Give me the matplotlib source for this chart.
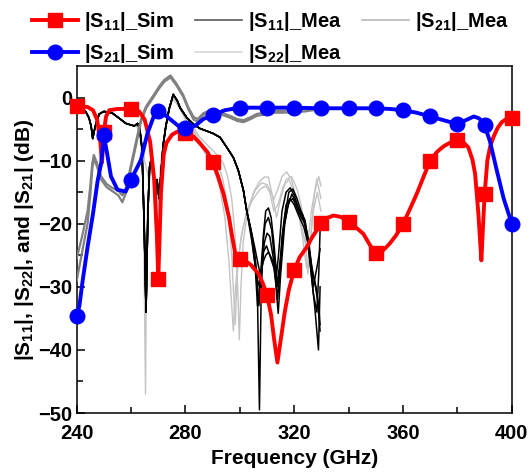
import numpy as np
import matplotlib
matplotlib.use("Agg")
import matplotlib.pyplot as plt
from matplotlib.lines import Line2D

plt.rcParams['font.family'] = ['Liberation Sans', 'DejaVu Sans']
plt.rcParams['font.weight'] = 'bold'
plt.rcParams['mathtext.fontset'] = 'custom'
plt.rcParams['mathtext.rm'] = 'Liberation Sans:bold'
plt.rcParams['mathtext.bf'] = 'Liberation Sans:bold'
plt.rcParams['mathtext.default'] = 'bf'

# ---- simulated |S11| (red) ----
s11_sim_f = [240, 242, 244, 246, 247.5, 248.6, 249.3, 250, 250.8, 252, 255, 260, 263, 265, 267,
             268.5, 269.5, 270, 271, 272, 273, 275, 277, 280, 283, 285, 288, 290, 292, 294, 296,
             297, 298.2, 300, 302, 304, 306.8, 308.5, 310, 311.5, 312.5, 313.8, 315, 316.5, 318,
             320, 322, 324.6, 326.5, 328.3, 330, 332, 334.4, 337, 340, 343, 345.4, 348, 350, 352,
             355, 357.5, 360, 362.5, 365, 367.5, 370, 372.5, 375, 377.5, 380, 382, 384, 385.5,
             386.5, 387.7, 388.8, 389.4, 390, 391, 392, 393.2, 394.8, 396.3, 398, 400]
s11_sim_db = [-1.3, -1.4, -1.5, -2.0, -3.5, -6.5, -10.3, -5.4, -3.0, -2.0, -1.8, -1.8, -2.2, -3.5, -7.0,
              -13.0, -22.0, -28.8, -15.0, -9.0, -7.2, -5.9, -5.4, -5.6, -6.2, -7.1, -8.6, -10.2, -12.5, -15.3, -19.0,
              -21.6, -24.5, -25.6, -25.9, -26.5, -27.9, -29.5, -31.3, -34.5, -38.0, -42.0, -38.5, -34.0, -30.5,
              -27.3, -25.3, -23.7, -22.2, -21.0, -19.9, -19.1, -18.7, -18.9, -19.7, -20.7, -21.6, -23.5, -24.6, -24.5,
              -23.2, -21.8, -20.0, -17.7, -15.3, -12.6, -10.0, -8.6, -7.7, -7.1, -6.7, -7.0, -7.9, -9.8,
              -12.1, -18.4, -25.8, -20.5, -15.3, -10.0, -7.8, -6.3, -4.8, -3.9, -3.4, -3.2]

# ---- simulated |S21| (blue) ----
s21_sim_f = [240, 241, 242.2, 244, 246, 247.7, 249, 250, 251.4, 252.6, 255, 258, 260, 263.6, 266,
             268.5, 270, 272, 274, 277.7, 280, 283.5, 286.6, 290, 294.5, 300, 310, 320, 330, 340,
             350, 355, 360, 365, 370, 375, 380, 383, 386, 388, 390, 392, 394.5, 397, 400]
s21_sim_db = [-34.6, -33.0, -29.0, -23.7, -18.4, -13.2, -10.4, -6.0, -9.4, -12.5, -14.6, -14.9, -13.0, -9.9, -5.7,
              -2.8, -2.2, -2.6, -3.3, -4.6, -4.9, -4.5, -3.4, -2.8, -2.0, -1.6, -1.6, -1.6, -1.7, -1.7,
              -1.7, -1.8, -2.0, -2.4, -3.0, -3.6, -4.2, -3.6, -3.0, -3.3, -4.4, -7.0, -11.6, -16.0, -20.0]

# ---- measured |S21| (gray bundle, two sweeps) ----
s21_mea_f = [240, 242, 244, 245, 245.7, 246.3, 247.5, 249, 251, 253, 255.3, 256.8, 258.2, 260, 261.8,
             263.6, 265.5, 268, 270.4, 272.2, 274.5, 276.7, 279.2, 281, 283, 284.5, 286.5, 289, 292,
             296.4, 299, 301.3, 304, 306.2, 309, 312.3, 316, 320, 324, 327, 330]
s21_mea_a = [-25.5, -22.0, -18.0, -14.0, -10.5, -9.1, -10.4, -12.5, -13.7, -14.3, -14.8, -15.5, -14.2, -10.6, -7.0,
             -3.5, -1.4, 0.2, 1.8, 2.8, 3.5, 2.2, 0.4, -1.5, -3.1, -3.4, -2.5, -2.0, -2.2,
             -2.9, -3.4, -3.6, -3.1, -2.6, -2.4, -2.1, -2.1, -2.0, -1.9, -1.7, -1.5]
s21_mea_b = [-29.0, -24.5, -20.0, -15.5, -11.5, -9.6, -11.0, -13.0, -14.2, -14.8, -15.5, -16.6, -15.0, -11.2, -7.6,
             -3.9, -1.7, -0.1, 1.5, 2.5, 3.2, 1.9, 0.1, -1.8, -3.5, -3.8, -2.8, -2.3, -2.5,
             -3.2, -3.7, -3.9, -3.4, -2.9, -2.7, -2.4, -2.4, -2.3, -2.2, -2.0, -1.8]

# ---- measured |S11| (black): common part up to 301 GHz, then individual sweeps ----
s11_mea_head_f = [240, 241.5, 243.4, 244.5, 245.3, 245.9, 246.5, 247.1, 248.3, 250, 251.5, 253.2, 255.7,
                  258.1, 261.2, 262.4, 263.2, 264, 264.8, 265.5, 266.2, 266.8, 267.5, 268.3, 268.9, 269.5,
                  270.3, 271, 271.8, 272.8, 274, 275.5, 277, 278, 280.5, 282.9, 285.3, 287.8, 290.2,
                  292.7, 295.2, 297.6, 299.4, 301.3]
s11_mea_head_db = [-1.2, -1.6, -2.3, -3.2, -4.5, -6.5, -5.2, -4.1, -2.6, -2.2, -2.3, -2.5, -3.3,
                   -4.1, -4.5, -4.1, -5.0, -8.0, -20.0, -34.0, -18.0, -11.0, -9.5, -12.0, -17.0, -13.0,
                   -16.0, -12.0, -7.5, -4.5, -1.8, 0.5, -0.5, -1.6, -3.2, -4.2, -4.9, -5.3, -5.7,
                   -6.3, -7.9, -9.5, -11.5, -14.7]
s11_mea_tails_f = [
    [302.5, 304.4, 305.6, 306.4, 307.2, 307.8, 308.6, 309.5, 310.5, 311.5, 312.5, 313.5, 314.2, 315.5,
     317, 318.5, 320, 321.5, 323, 324.5, 325.8, 327, 328.3, 329, 329.5],
    [302.5, 304, 305.5, 306.5, 307.3, 308.3, 309.3, 310.5, 311.7, 313, 313.8, 314.5, 315.5, 317,
     318.4, 320, 321.5, 323.5, 325, 326.5, 327.5, 328.9, 329.5],
    [302.5, 304.4, 306, 307, 308, 309, 310, 311, 312.5, 314.1, 315, 316.5, 318, 319.5, 321, 322.5,
     324, 325.8, 327, 328.3, 329.5],
    [302.5, 304.5, 306, 307.2, 308.6, 309.8, 311, 312.5, 313.5, 314.5, 316, 317.5, 319.1, 320.5,
     322, 323.5, 325, 326.5, 327.5, 328.5, 329.5],
    [302.5, 304.4, 305.6, 306.5, 307.5, 308.6, 309.5, 310.5, 311.7, 313, 314, 315, 316.5, 318,
     319.5, 321, 322.5, 324, 325.5, 326.8, 328, 329, 329.5],
]
s11_mea_tails_db = [
    [-17.9, -21.6, -25.3, -30.0, -49.5, -32.0, -22.0, -18.0, -17.5, -19.0, -23.0, -28.0, -25.0, -18.0,
     -15.0, -14.3, -15.5, -17.5, -18.5, -21.0, -26.0, -31.0, -34.0, -28.0, -21.0],
    [-17.9, -21.0, -26.0, -33.0, -30.0, -24.0, -20.0, -19.0, -21.0, -26.9, -32.0, -29.0, -22.0, -17.0,
     -16.0, -17.0, -18.6, -20.5, -23.0, -29.0, -33.0, -40.0, -30.0],
    [-17.9, -22.0, -27.0, -33.0, -28.0, -23.0, -21.5, -22.0, -26.0, -34.2, -28.0, -20.0, -16.5, -16.0,
     -17.5, -19.0, -20.0, -25.0, -30.0, -27.0, -24.0],
    [-17.9, -23.0, -28.0, -30.0, -24.5, -23.5, -25.0, -27.0, -30.0, -27.0, -21.0, -17.5, -15.3, -16.5,
     -18.0, -19.5, -22.0, -27.0, -29.0, -32.0, -37.0],
    [-17.9, -21.6, -24.0, -26.0, -28.0, -26.0, -25.0, -24.5, -25.5, -27.0, -30.0, -26.0, -19.0, -15.0,
     -14.5, -16.0, -18.0, -19.5, -24.0, -28.0, -30.0, -33.0, -36.0],
]

# ---- measured |S22| (light gray, three sweeps) ----
s22_mea_f = [
    [262, 263.5, 264.5, 265.3, 265.8, 266.5, 267.5, 268.5, 269.3, 270, 271, 272.5, 274, 275.5, 277.5,
     280, 283, 285.3, 288, 291.5, 294, 295.5, 297, 298.2, 299.2, 299.8, 300.4, 301.2, 302.5, 305,
     307.4, 309, 310.5, 312.3, 314, 315.5, 317.2, 319, 320.9, 322.5, 324.6, 326.3, 328.3, 329.8],
    [262, 264, 265, 265.7, 266.3, 267.5, 268.8, 269.8, 271, 272.5, 274, 275.5, 277.5, 280, 283,
     285.3, 288, 291, 293.5, 295.5, 297, 297.8, 298.3, 299, 300.5, 302.5, 305, 307.5, 309.5, 311,
     312.5, 314, 316, 318, 320, 321.5, 323, 324.5, 325.5, 327, 328.5, 329.8],
    [262, 263.5, 265, 266.5, 268, 269.5, 270.5, 272, 274, 275.5, 277.5, 280, 283, 285.3, 288,
     290.5, 292.5, 294.5, 296, 297, 297.6, 298.4, 299.5, 301, 303, 305.5, 308, 310, 312, 313.5,
     315, 317, 319, 321, 322.5, 324, 325, 326, 327.5, 329, 329.8],
]
s22_mea_db = [
    [-4.3, -6.0, -15.0, -47.0, -20.0, -12.0, -10.0, -14.0, -20.0, -15.0, -10.0, -5.0, -1.5, 0.2, -1.0,
     -3.0, -4.8, -6.3, -7.5, -9.0, -10.5, -12.5, -16.0, -21.6, -30.0, -38.4, -30.0, -23.0, -19.0, -15.0,
     -13.2, -12.6, -12.6, -16.3, -14.5, -12.5, -11.8, -13.0, -16.3, -20.0, -24.2, -18.0, -12.9, -16.0],
    [-4.3, -8.0, -20.0, -28.0, -15.0, -10.5, -16.0, -18.0, -11.0, -5.5, -1.8, 0.0, -1.2, -3.3, -5.2,
     -6.8, -8.5, -10.0, -12.5, -17.0, -25.0, -32.0, -36.0, -28.0, -22.0, -18.0, -16.0, -14.5, -14.0, -15.0,
     -18.0, -17.0, -14.0, -13.0, -15.0, -18.0, -22.0, -27.0, -25.0, -18.0, -15.0, -18.0],
    [-4.3, -5.5, -10.0, -13.0, -11.0, -16.0, -13.0, -7.0, -2.0, -0.2, -1.5, -3.5, -5.6, -7.3, -9.5,
     -11.5, -14.0, -19.0, -26.0, -33.0, -37.0, -30.0, -25.0, -21.0, -17.5, -14.8, -13.5, -13.8, -15.5, -19.0,
     -16.0, -13.0, -12.5, -14.5, -17.0, -21.0, -28.0, -22.0, -15.0, -12.5, -14.0],
]

fig = plt.figure(figsize=(5.3, 4.75), dpi=100)
ax = fig.add_axes([0.1447, 0.1305, 0.821, 0.7305])

# measured data below the simulated curves
for f, db in zip(s22_mea_f, s22_mea_db):
    ax.plot(f, db, color='#c4c4c4', lw=1.0, zorder=2)
for tf, tdb in zip(s11_mea_tails_f, s11_mea_tails_db):
    ax.plot(s11_mea_head_f + tf, s11_mea_head_db + tdb, color='black', lw=1.1, zorder=3)
ax.plot(s21_mea_f, s21_mea_a, color='#808080', lw=1.6, zorder=4)
ax.plot(s21_mea_f, s21_mea_b, color='#808080', lw=1.6, zorder=4)

f11 = np.array(s11_sim_f)
f21 = np.array(s21_sim_f)
mk11 = list(np.where(np.isclose(f11 % 10, 0))[0])
mk21 = list(np.where(np.isclose(f21 % 10, 0))[0])
ax.plot(f11, s11_sim_db, color='red', lw=2.8, marker='s', ms=9.5, markevery=mk11, zorder=5, clip_on=False)
ax.plot(f21, s21_sim_db, color='blue', lw=2.8, marker='o', ms=10.5, markevery=mk21, zorder=6, clip_on=False)

ax.set_xlim(240, 400)
ax.set_ylim(-50, 5)
ax.set_xticks([240, 280, 320, 360, 400])
ax.set_xticks([260, 300, 340, 380], minor=True)
ax.set_yticks([0, -10, -20, -30, -40, -50])
ax.set_yticks([-5, -15, -25, -35, -45], minor=True)
ax.tick_params(which='both', direction='in', top=False, right=False, labelsize=14.5, width=1.1)
ax.tick_params(axis='x', which='major', pad=8)
ax.tick_params(axis='y', which='major', pad=3)
ax.tick_params(which='major', length=6)
ax.tick_params(which='minor', length=4)
for s in ax.spines.values():
    s.set_linewidth(1.1)
for lab in ax.get_xticklabels() + ax.get_yticklabels():
    lab.set_fontweight('bold')

ax.set_xlabel('Frequency (GHz)', fontsize=15, fontweight='bold', labelpad=4)
ax.set_ylabel(r'|S$_{11}$|, |S$_{22}$|, and |S$_{21}$| (dB)', fontsize=15, fontweight='bold', labelpad=2)

handles = [
    Line2D([], [], color='red', lw=2.8, marker='s', ms=9.5),
    Line2D([], [], color='blue', lw=2.8, marker='o', ms=10.5),
    Line2D([], [], color='#5a5a5a', lw=1.2),
    Line2D([], [], color='#d8d8d8', lw=1.2),
    Line2D([], [], color='#b8b8b8', lw=1.2),
]
labels = [r'|S$_{11}$|_Sim', r'|S$_{21}$|_Sim', r'|S$_{11}$|_Mea', r'|S$_{22}$|_Mea', r'|S$_{21}$|_Mea']
fig.legend(handles, labels, loc='upper left', bbox_to_anchor=(0.045, 0.995), ncol=3, frameon=False,
           fontsize=14.5, handlelength=2.3, handletextpad=0.3, columnspacing=1.05, labelspacing=0.45,
           borderaxespad=0)

fig.savefig('out.png', dpi=100)
